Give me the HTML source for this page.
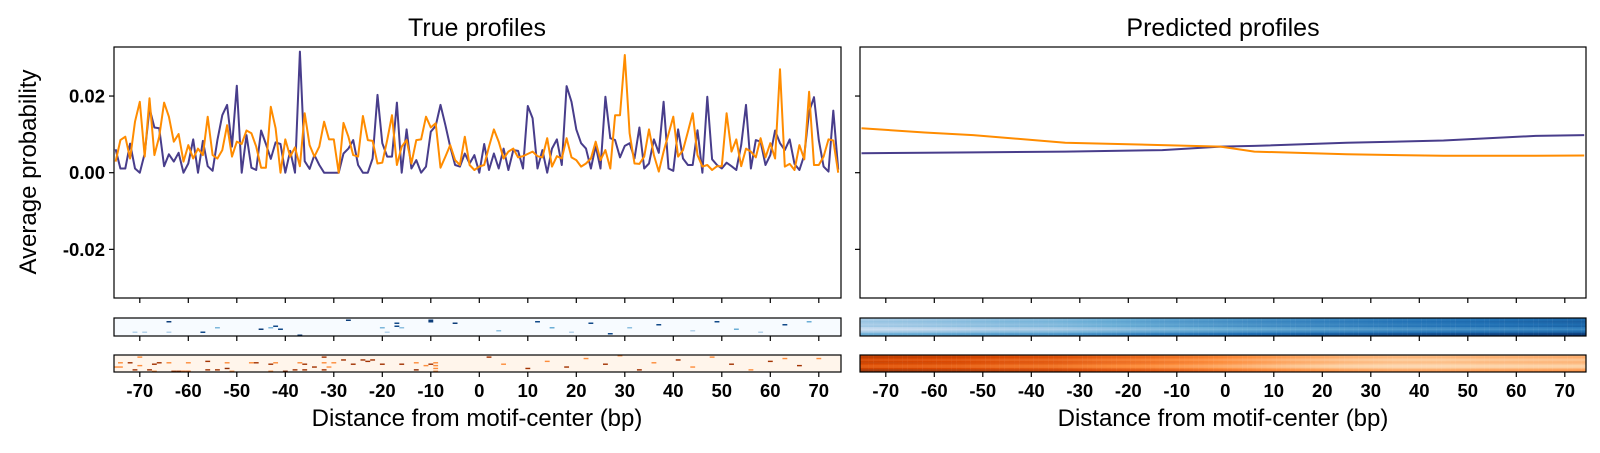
<!DOCTYPE html>
<html><head><meta charset="utf-8">
<style>
html,body{margin:0;padding:0;background:#fff;}
svg{display:block;font-family:"Liberation Sans",sans-serif;}
.tk{font-size:18.5px;font-weight:bold;fill:#000;}
</style></head>
<body>
<svg id="fig" width="1600" height="453" viewBox="0 0 1600 453" xmlns="http://www.w3.org/2000/svg">
<text x="477" y="36" text-anchor="middle" font-size="25">True profiles</text>
<text x="1223" y="36" text-anchor="middle" font-size="25">Predicted profiles</text>
<text transform="translate(36,172) rotate(-90)" text-anchor="middle" font-size="24">Average probability</text>
<text x="477" y="426" text-anchor="middle" font-size="24">Distance from motif-center (bp)</text>
<text x="1223" y="426" text-anchor="middle" font-size="24">Distance from motif-center (bp)</text>
<g id="layer"></g>
</svg>
<script>
// ---- data (values in units of 0.001 probability) ----
const truePurple = [6.1,1.1,1.1,7.6,1.1,0,5,16.8,11.8,11.6,1.7,4.8,2.9,5.2,0,2.4,8.7,0,8.3,1.7,0.5,8.5,15,17.7,6.8,22.7,0,9.8,1.3,0.7,11,7.5,3.6,7.9,7.5,0,5.7,0,31.6,3,1,4.6,2,0,0,0,0,5,6.3,8.5,2,0,0,3.7,20.3,7.7,4.2,4.2,18.3,0,11.3,1.1,3.3,0,1.6,10.7,12.2,17.7,12.4,6.8,2,1.6,5,2.4,
4.6,0,7.5,0.7,5,1.1,6.3,0.7,5.9,5.7,1.1,17.4,14.2,1.1,5.9,0,6.3,8.7,2,22.6,18.5,11.3,7.7,6.3,1.1,7,1.1,19.8,9,8.5,4,7,7.7,3.7,11.8,1.1,2.4,8.7,5.2,18.5,1.1,0.5,11.3,3.7,2,2,11.1,0,19.8,3.5,2,1.1,2.6,1.7,0.7,7.2,17.7,1.1,8.5,8.1,2,4.6,11,7.7,5.9,8.7,2.3,0.7,4.6,15.9,19.7,8.5,1.6,0.3,16.2,0.8];
const trueOrange = [2.9,8.5,9.4,3.7,13.3,18.5,4.2,19.4,4.6,9.4,18.3,14.6,8.1,10.1,2.9,7.2,3.7,6.3,4.6,14.6,4.6,3.7,5.9,12.4,4.2,8.1,7.5,11,10.3,6.8,1.3,1.3,17.2,11.6,0,8.7,4.2,6.6,1.7,15.5,7.2,4.2,6.8,13.3,8.7,8.7,0,13,9.4,4.6,4.2,14.8,8.5,8.3,2.4,2.6,8.5,15,2,6.8,8.5,2.4,8.5,8.7,14.6,11.8,12.9,1.3,4.2,7.2,3.3,2,9.4,2,
0.7,1.6,2,6.8,11.3,8.1,3.7,5.5,6.3,4,4.3,4.9,5.5,4.3,4,9,1.6,4.3,3.7,9,4,3.3,1.6,2.4,3.7,8.1,3.3,5.9,1.1,15,15,30.7,10.3,2.4,2.3,4.2,11.3,4.6,0.3,5.5,10.1,14.6,4.2,5.9,10.7,15.5,4.6,1.6,2,0.7,1.7,1.7,15.5,5.5,8.7,1.7,6.3,5.5,4,9,4,7.7,3.7,27,1.6,2.3,0.7,7.2,3.5,21.1,2,2,4.2,8.7,8.4,0];
const startBp = -75;
const predBp = [-75,-62,-52,-33,-13,-1,6,25,45,64,74];
const predOrange = [11.6,10.5,9.8,7.8,7.2,6.8,5.5,4.8,4.4,4.4,4.5];
const predPurple = [5.1,5.2,5.3,5.5,5.9,6.8,7.0,7.8,8.4,9.6,9.8];
const yTicks = [-0.02,0,0.02];
const yTickLabels = ["-0.02","0.00","0.02"];
const xTicks = [-70,-60,-50,-40,-30,-20,-10,0,10,20,30,40,50,60,70];
// true heatmap sparse entries: [bp, row, intensity]
const trueBlueCells = [[-64,2,.95],[-71,9,.3],[-69,9,.3],[-64,9,.3],[-57,9,.9],[-54,6,.45],[-45,7,.95],[-43,6,.45],[-42,5,.9],[-41,7,.9],[-37,11,.95],[-27,1,.95],[-20,6,.45],[-19,9,.3],[-17,3,.9],[-17,5,.9],[-16,6,.4],[-10,1,.95],[-10,2,.95],[-5,3,.95],[4,8,.4],[12,2,.9],[15,6,.5],[19,9,.3],[23,3,.9],[27,10,.9],[31,6,.4],[37,4,.9],[44,8,.3],[49,2,.9],[53,7,.5],[58,9,.3],[63,4,.9],[68,2,.5]];
const trueOrangeCells = [[-74,5,.5],[-75,8,.5],[-74,8,.5],[-72,5,.9],[-71,10,.9],[-70,1,.5],[-70,7,.5],[-68,10,.9],[-67,6,.9],[-66,5,.9],[-67,11,.5],[-64,5,.5],[-63,11,.85],[-62,11,.85],[-61,11,.6],[-60,11,.6],[-60,5,.5],[-56,4,.9],[-56,10,.9],[-54,10,.9],[-52,5,.5],[-52,9,.95],[-51,11,.5],[-47,5,.5],[-46,5,.9],[-43,6,.9],[-43,11,.5],[-42,5,.5],[-40,11,.95],[-38,10,.9],[-37,5,.5],[-36,6,.9],[-36,10,.9],[-34,8,.9],[-32,1,.9],[-32,5,.5],[-32,10,.9],[-31,8,.5],[-30,5,.5],[-28,3,.9],[-26,6,.9],[-24,3,.9],[-23,4,.9],[-22,3,.9],[-20,6,.9],[-16,6,.9],[-13,5,.5],[-13,10,.95],[-11,7,.5],[-10,6,.9],[-9,5,.5],[-9,7,.5],[-9,9,.5],[-9,11,.5],[2,1,.9],[5,6,.5],[10,9,.9],[14,4,.5],[18,8,.9],[22,2,.5],[26,6,.9],[29,0,.5],[33,10,.9],[36,5,.5],[41,3,.9],[44,8,.5],[48,1,.5],[52,6,.9],[56,10,.5],[60,4,.9],[63,2,.5],[66,7,.9],[70,2,.5]];
// predicted heatmaps: column trend (every 10bp from -75) + per-row offsets
const heatBp = [-75,-65,-55,-45,-35,-25,-15,-5,5,15,25,35,45,55,65,74];
const predBlueCol = [0.32,0.34,0.37,0.4,0.42,0.47,0.52,0.56,0.6,0.63,0.66,0.69,0.71,0.73,0.75,0.77];
const predBlueRow = [0,0.02,0.05,0.02,0,0.03,-0.05,-0.1,-0.05,0.05,0.15,0.22];
const predOrangeCol = [0.78,0.76,0.74,0.7,0.68,0.62,0.58,0.52,0.45,0.38,0.33,0.3,0.3,0.32,0.33,0.34];
const predOrangeRow = [0,0.05,0,-0.05,0,0.02,-0.05,-0.1,-0.1,0,0.1,0.15];

// ---- layout ----
const NS="http://www.w3.org/2000/svg";
const layer=document.getElementById('layer');
const panels=[{x0:114,x1:841,side:'left'},{x0:860,x1:1586,side:'right'}];
const mainTop=47, mainBot=298, zeroY=172.7, pxPerUnit=3.833; // px per 0.001
const blueTop=318, blueBot=336, orTop=355, orBot=372, nRows=12;
function xs(p,bp){return p.x0+365.3+4.85*bp;}
function ys(v){return zeroY-v*pxPerUnit;}
function mk(tag,attrs,parent){const e=document.createElementNS(NS,tag);for(const k in attrs)e.setAttribute(k,attrs[k]);(parent||layer).appendChild(e);return e;}
function lerp(arrX,arrY,x){if(x<=arrX[0])return arrY[0];for(let i=1;i<arrX.length;i++){if(x<=arrX[i]){const t=(x-arrX[i-1])/(arrX[i]-arrX[i-1]);return arrY[i-1]+t*(arrY[i]-arrY[i-1]);}}return arrY[arrY.length-1];}
function cmap(stops,v){v=Math.max(0,Math.min(1,v));const n=stops.length-1;const i=Math.min(n-1,Math.floor(v*n));const t=v*n-i;const a=stops[i],b=stops[i+1];return 'rgb('+[0,1,2].map(k=>Math.round(a[k]+t*(b[k]-a[k]))).join(',')+')';}
const BLUES=[[247,251,255],[198,219,239],[107,174,214],[33,113,181],[8,48,107]];
const ORANGES=[[255,245,235],[253,208,162],[253,141,60],[217,72,1],[127,39,4]];

function line(p,xsArr,vals,color,name){
  let d='';vals.forEach((v,i)=>{d+=(i?'L':'M')+xs(p,xsArr[i]).toFixed(1)+','+ys(v).toFixed(1);});
  const e=mk('path',{d:d,fill:'none',stroke:color,'stroke-width':2,'stroke-linejoin':'round'});
  
  
}
function xticks(p,yb,withLabels,nm){
  xTicks.forEach((t,i)=>{
    const x=xs(p,t);
    const tk=mk('line',{x1:x,x2:x,y1:yb,y2:yb+5,stroke:'#000','stroke-width':1.2});
    
    
    if(withLabels){
      const tx=mk('text',{x:x,y:yb+25,'text-anchor':'middle',class:'tk'});
      tx.textContent=String(t);
      
      
    }
  });
}
panels.forEach(p=>{
  const box=mk('rect',{x:p.x0,y:mainTop,width:p.x1-p.x0,height:mainBot-mainTop,fill:'none',stroke:'#000','stroke-width':1.2});
  
  
  yTicks.forEach((t,i)=>{
    const y=ys(t*1000);
    const tk=mk('line',{x1:p.x0-5,x2:p.x0,y1:y,y2:y,stroke:'#000','stroke-width':1.2});
    
    
    if(p.side==='left'){
      const tx=mk('text',{x:p.x0-9,y:y+6.5,'text-anchor':'end',class:'tk'});
      tx.textContent=yTickLabels[i];
      
      
    }
  });
  xticks(p,mainBot,false,p.side+'-main-x');
  const clipId='clip-'+p.side;
  const cp=mk('clipPath',{id:clipId});
  mk('rect',{x:p.x0,y:blueTop,width:p.x1-p.x0,height:blueBot-blueTop},cp);
  mk('rect',{x:p.x0,y:orTop,width:p.x1-p.x0,height:orBot-orTop},cp);
  const g=mk('g',{'clip-path':'url(#'+clipId+')'});
  
  
  const rhB=(blueBot-blueTop)/nRows, rhO=(orBot-orTop)/nRows;
  if(p.side==='left'){
    mk('rect',{x:p.x0,y:blueTop,width:p.x1-p.x0,height:blueBot-blueTop,fill:cmap(BLUES,0)},g);
    mk('rect',{x:p.x0,y:orTop,width:p.x1-p.x0,height:orBot-orTop,fill:cmap(ORANGES,0)},g);
    trueBlueCells.forEach(c=>{
      const r=mk('rect',{x:xs(p,c[0])-2.4,y:blueTop+c[1]*rhB,width:4.85,height:rhB,fill:cmap(BLUES,c[2])},g);
      
      
    });
    trueOrangeCells.forEach(c=>{
      const r=mk('rect',{x:xs(p,c[0])-2.4,y:orTop+c[1]*rhO,width:4.85,height:rhO,fill:cmap(ORANGES,c[2])},g);
      
      
    });
  } else {
    for(let bp=-75;bp<=74;bp++){
      const cb=lerp(heatBp,predBlueCol,bp), co=lerp(heatBp,predOrangeCol,bp);
      for(let r=0;r<nRows;r++){
        const rb=mk('rect',{x:xs(p,bp)-2.45,y:blueTop+r*rhB,width:5,height:rhB+0.2,fill:cmap(BLUES,cb+predBlueRow[r])},g);
        
        
        const ro=mk('rect',{x:xs(p,bp)-2.45,y:orTop+r*rhO,width:5,height:rhO+0.2,fill:cmap(ORANGES,co+predOrangeRow[r])},g);
        
        
      }
    }
  }
  const bb=mk('rect',{x:p.x0,y:blueTop,width:p.x1-p.x0,height:blueBot-blueTop,fill:'none',stroke:'#000','stroke-width':1.2});
  
  
  const ob=mk('rect',{x:p.x0,y:orTop,width:p.x1-p.x0,height:orBot-orTop,fill:'none',stroke:'#000','stroke-width':1.2});
  
  
  xticks(p,blueBot,false,p.side+'-blue-x');
  xticks(p,orBot,true,p.side+'-orange-x');
});
const bpTrue=truePurple.map((_,i)=>startBp+i);
line(panels[0],bpTrue,truePurple,'#483d8b','true-purple-line');
line(panels[0],bpTrue,trueOrange,'#ff8c00','true-orange-line');
line(panels[1],predBp,predPurple,'#483d8b','pred-purple-line');
line(panels[1],predBp,predOrange,'#ff8c00','pred-orange-line');
</script>
</body></html>
